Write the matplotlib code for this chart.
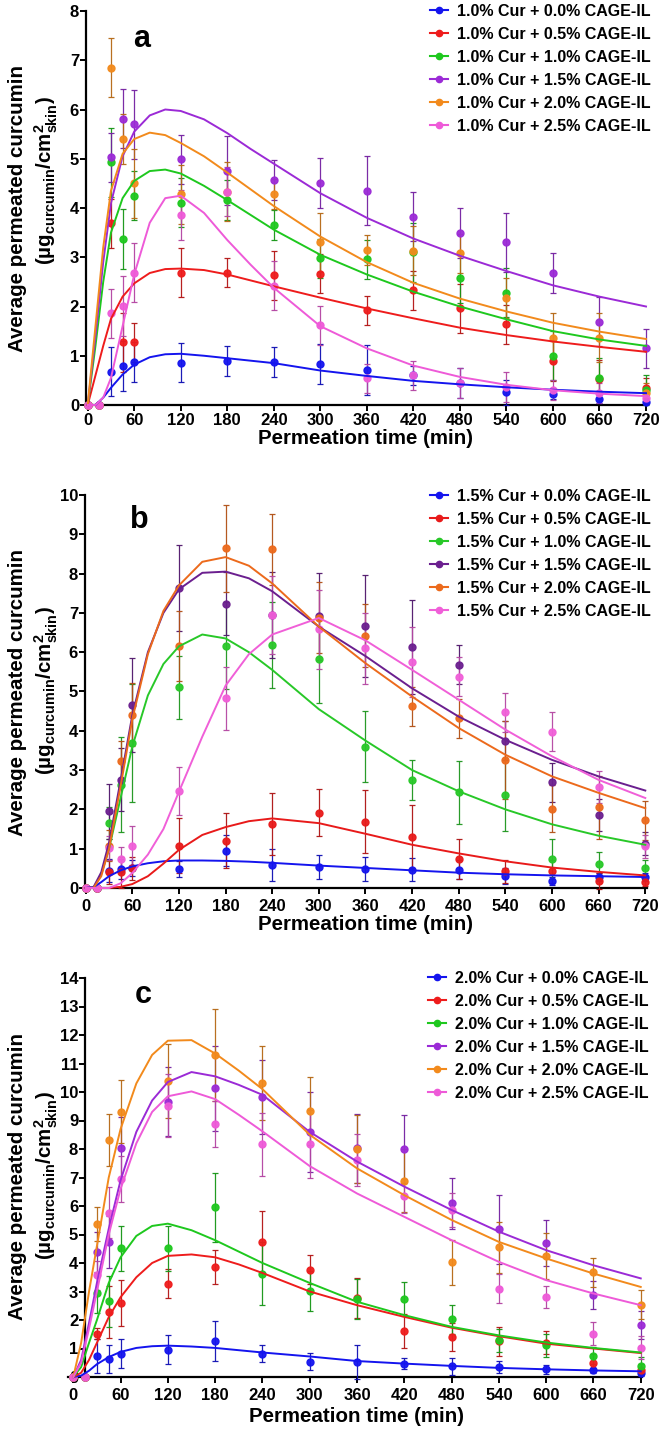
import numpy as np
import matplotlib
matplotlib.use("Agg")
import matplotlib.pyplot as plt
from matplotlib.lines import Line2D
from matplotlib.colors import to_rgb

plt.rcParams['font.family'] = ['Liberation Sans', 'DejaVu Sans']
plt.rcParams['font.weight'] = 'bold'
plt.rcParams['mathtext.fontset'] = 'custom'
plt.rcParams['mathtext.rm'] = 'Liberation Sans:bold'
plt.rcParams['mathtext.it'] = 'Liberation Sans:bold'
plt.rcParams['mathtext.bf'] = 'Liberation Sans:bold'

# -------------------------------
# DATA
# -------------------------------
times = [0, 15, 30, 45, 60, 120, 180, 240, 300, 360, 420, 480, 540, 600, 660, 720]
fit_times = [0, 10, 20, 30, 45, 60, 80, 100, 120, 150, 180, 210, 240, 300, 360, 420, 480, 540, 600, 660, 720]
cage = ["0.0", "0.5", "1.0", "1.5", "2.0", "2.5"]
xticks = [0, 60, 120, 180, 240, 300, 360, 420, 480, 540, 600, 660, 720]

# panel a : 1.0% Cur
a_mean = [
    [0, 0, 0.68, 0.79, 0.87, 0.86, 0.89, 0.87, 0.83, 0.71, 0.60, 0.45, 0.26, 0.22, 0.12, 0.07],
    [0, 0, 3.69, 1.27, 1.27, 2.69, 2.69, 2.63, 2.67, 1.92, 2.33, 1.96, 1.64, 0.89, 0.52, 0.34],
    [0, 0, 4.93, 3.37, 4.25, 4.11, 4.16, 3.65, 2.98, 2.96, 3.10, 2.57, 2.28, 1.00, 0.55, 0.30],
    [0, 0, 5.03, 5.81, 5.70, 4.99, 4.76, 4.57, 4.51, 4.35, 3.82, 3.49, 3.30, 2.68, 1.69, 1.15],
    [0, 0, 6.85, 5.40, 4.50, 4.28, 4.33, 4.28, 3.30, 3.15, 3.13, 3.08, 2.17, 1.37, 1.37, 0.25],
    [0, 0, 1.86, 2.01, 2.69, 3.86, 4.33, 2.42, 1.62, 0.54, 0.60, 0.45, 0.37, 0.30, 0.25, 0.15],
]
a_sd = [
    [0, 0, 0.5, 0.5, 0.4, 0.4, 0.3, 0.3, 0.4, 0.5, 0.2, 0.3, 0.25, 0.1, 0.08, 0.05],
    [0, 0, 0.5, 0.6, 0.4, 0.5, 0.3, 0.5, 0.4, 0.3, 0.4, 0.5, 0.4, 0.4, 0.4, 0.2],
    [0, 0, 0.7, 0.6, 0.5, 0.5, 0.4, 0.3, 0.4, 0.4, 0.6, 0.5, 0.5, 0.5, 0.4, 0.3],
    [0, 0, 0.5, 0.6, 0.7, 0.5, 0.7, 0.4, 0.5, 0.7, 0.5, 0.5, 0.6, 0.4, 0.5, 0.4],
    [0, 0, 0.6, 0.5, 0.7, 0.6, 0.6, 0.3, 0.6, 0.3, 0.5, 0.4, 0.4, 0.5, 0.5, 0.2],
    [0, 0, 0.5, 0.6, 0.6, 0.5, 0.5, 0.5, 0.4, 0.3, 0.3, 0.3, 0.3, 0.2, 0.2, 0.1],
]
a_fit = [
    [0, 0.0, 0.15, 0.35, 0.62, 0.82, 0.97, 1.03, 1.04, 1.00, 0.95, 0.90, 0.85, 0.70, 0.59, 0.49, 0.42, 0.36, 0.31, 0.27, 0.24],
    [0, 0.6, 1.2, 1.75, 2.2, 2.47, 2.68, 2.76, 2.77, 2.74, 2.65, 2.53, 2.41, 2.18, 1.96, 1.76, 1.57, 1.42, 1.29, 1.18, 1.08],
    [0, 1.2, 2.5, 3.5, 4.2, 4.55, 4.75, 4.78, 4.70, 4.45, 4.16, 3.86, 3.56, 3.05, 2.65, 2.30, 2.00, 1.74, 1.50, 1.33, 1.20],
    [0, 1.4, 2.9, 4.1, 5.05, 5.55, 5.88, 6.00, 5.97, 5.80, 5.52, 5.20, 4.90, 4.30, 3.80, 3.38, 3.03, 2.72, 2.43, 2.20, 2.00],
    [0, 1.6, 3.2, 4.35, 5.1, 5.40, 5.53, 5.48, 5.32, 5.05, 4.72, 4.38, 4.04, 3.42, 2.90, 2.48, 2.16, 1.90, 1.67, 1.49, 1.34],
    [0, 0.0, 0.15, 0.55, 1.6, 2.65, 3.70, 4.20, 4.25, 3.90, 3.35, 2.85, 2.38, 1.60, 1.15, 0.80, 0.57, 0.41, 0.30, 0.23, 0.18],
]

# panel b : 1.5% Cur
b_mean = [
    [0, 0, 0.44, 0.49, 0.51, 0.48, 0.95, 0.58, 0.53, 0.49, 0.47, 0.47, 0.31, 0.17, 0.28, 0.28],
    [0, 0, 0.40, 0.40, 0.50, 1.08, 1.20, 1.63, 1.92, 1.69, 1.31, 0.74, 0.42, 0.42, 0.17, 0.14],
    [0, 0, 1.65, 2.63, 3.69, 5.11, 6.17, 6.19, 5.82, 3.60, 2.75, 2.44, 2.36, 0.74, 0.62, 0.51],
    [0, 0, 1.95, 2.75, 4.65, 7.64, 7.23, 6.95, 6.91, 6.67, 6.14, 5.68, 3.75, 2.69, 1.86, 1.13],
    [0, 0, 1.08, 3.24, 4.41, 6.16, 8.64, 8.62, 6.88, 6.42, 4.62, 4.32, 3.26, 2.02, 2.05, 1.72],
    [0, 0, 1.02, 0.74, 1.08, 2.47, 4.83, 6.95, 6.58, 6.10, 5.75, 5.38, 4.47, 3.98, 2.57, 1.06],
]
b_sd = [
    [0, 0, 0.3, 0.25, 0.2, 0.2, 0.4, 0.4, 0.3, 0.3, 0.3, 0.25, 0.2, 0.1, 0.1, 0.1],
    [0, 0, 0.3, 0.4, 0.3, 0.7, 0.7, 0.8, 0.6, 0.8, 0.8, 0.5, 0.3, 0.3, 0.2, 0.1],
    [0, 0, 0.4, 1.2, 1.5, 0.8, 1.1, 1.1, 1.1, 0.9, 0.5, 0.8, 0.9, 0.5, 0.3, 0.2],
    [0, 0, 0.7, 0.8, 1.2, 1.1, 0.8, 1.1, 1.1, 1.3, 1.2, 0.5, 0.5, 0.5, 0.4, 0.3],
    [0, 0, 0.4, 0.5, 0.8, 0.9, 1.1, 0.9, 0.9, 0.8, 0.5, 0.5, 1.0, 0.6, 0.8, 0.5],
    [0, 0, 0.3, 0.3, 0.5, 0.6, 0.8, 1.0, 1.0, 0.9, 0.9, 0.5, 0.5, 0.5, 0.4, 0.3],
]
b_fit = [
    [0, 0.02, 0.15, 0.30, 0.45, 0.55, 0.63, 0.68, 0.70, 0.70, 0.69, 0.67, 0.64, 0.57, 0.51, 0.45, 0.39, 0.35, 0.32, 0.30, 0.28],
    [0, 0.0, 0.0, 0.0, 0.03, 0.10, 0.30, 0.62, 0.97, 1.35, 1.55, 1.70, 1.77, 1.65, 1.38, 1.10, 0.88, 0.68, 0.52, 0.41, 0.32],
    [0, 0.0, 0.35, 1.0, 2.3, 3.6, 4.9, 5.7, 6.15, 6.45, 6.35, 6.00, 5.55, 4.55, 3.75, 3.00, 2.46, 2.00, 1.62, 1.33, 1.10],
    [0, 0.02, 0.4, 1.15, 2.75, 4.4, 6.0, 7.0, 7.6, 8.02, 8.05, 7.88, 7.55, 6.65, 5.90, 5.08, 4.36, 3.77, 3.26, 2.84, 2.48],
    [0, 0.0, 0.3, 1.0, 2.6, 4.3, 5.95, 7.05, 7.7, 8.30, 8.42, 8.20, 7.75, 6.65, 5.72, 4.87, 4.07, 3.39, 2.84, 2.42, 2.03],
    [0, 0.0, 0.0, 0.0, 0.12, 0.38, 0.85, 1.5, 2.45, 3.85, 5.15, 5.95, 6.45, 6.87, 6.30, 5.55, 4.79, 4.03, 3.35, 2.75, 2.29],
]

# panel c : 2.0% Cur
c_mean = [
    [0, 0, 0.73, 0.64, 0.82, 0.96, 1.27, 0.82, 0.53, 0.53, 0.47, 0.37, 0.35, 0.27, 0.23, 0.15],
    [0, 0, 1.52, 2.28, 2.60, 3.28, 3.87, 4.74, 3.77, 2.78, 1.62, 1.41, 1.25, 1.21, 0.49, 0.26],
    [0, 0, 2.95, 2.66, 4.51, 4.51, 5.95, 3.63, 3.02, 2.75, 2.73, 2.02, 1.29, 1.11, 0.75, 0.40],
    [0, 0, 4.39, 4.74, 8.02, 9.66, 10.13, 9.84, 8.61, 8.02, 7.99, 6.09, 5.18, 4.71, 2.87, 1.82],
    [0, 0, 5.37, 8.32, 9.31, 10.39, 11.30, 10.31, 9.34, 8.00, 6.89, 4.02, 4.55, 4.24, 3.67, 2.54],
    [0, 0, 3.57, 5.76, 6.94, 9.52, 8.88, 8.17, 8.18, 7.61, 6.35, 5.86, 3.10, 2.81, 1.52, 1.03],
]
c_sd = [
    [0, 0, 0.6, 0.5, 0.5, 0.5, 0.7, 0.3, 0.3, 0.6, 0.2, 0.3, 0.2, 0.15, 0.1, 0.1],
    [0, 0, 0.2, 0.9, 0.8, 0.5, 0.6, 1.1, 0.5, 0.7, 0.6, 0.5, 0.5, 0.4, 0.3, 0.2],
    [0, 0, 0.7, 0.9, 0.8, 0.8, 1.2, 1.1, 0.7, 0.7, 0.6, 0.5, 0.4, 0.4, 0.3, 0.3],
    [0, 0, 0.7, 0.9, 1.1, 1.2, 1.5, 1.3, 1.4, 1.2, 1.2, 0.9, 1.2, 0.8, 0.5, 0.5],
    [0, 0, 0.6, 0.9, 1.1, 1.3, 1.6, 1.3, 1.2, 1.2, 1.1, 0.8, 0.9, 0.8, 0.5, 0.5],
    [0, 0, 0.5, 0.9, 0.8, 1.1, 0.8, 1.1, 1.2, 0.9, 0.6, 0.6, 0.5, 0.4, 0.4, 0.4],
]
c_fit = [
    [0, 0.05, 0.22, 0.45, 0.70, 0.88, 1.02, 1.08, 1.10, 1.07, 1.02, 0.94, 0.86, 0.72, 0.56, 0.47, 0.39, 0.32, 0.27, 0.23, 0.20],
    [0, 0.15, 0.6, 1.2, 2.1, 2.8, 3.5, 4.0, 4.25, 4.30, 4.20, 3.95, 3.65, 3.00, 2.52, 2.11, 1.73, 1.43, 1.17, 1.00, 0.84],
    [0, 0.35, 1.2, 2.0, 3.3, 4.2, 4.95, 5.3, 5.38, 5.15, 4.80, 4.40, 4.00, 3.30, 2.64, 2.17, 1.76, 1.46, 1.21, 1.02, 0.86],
    [0, 0.6, 1.9, 3.3, 5.2, 6.9, 8.6, 9.7, 10.35, 10.70, 10.55, 10.25, 9.90, 8.60, 7.56, 6.68, 5.86, 5.10, 4.45, 3.92, 3.46],
    [0, 1.2, 3.0, 4.6, 7.0, 8.7, 10.3, 11.3, 11.8, 11.82, 11.35, 10.75, 10.10, 8.50, 7.32, 6.38, 5.51, 4.74, 4.16, 3.63, 3.16],
    [0, 0.5, 1.7, 3.0, 5.0, 6.6, 8.2, 9.3, 9.85, 10.02, 9.75, 9.20, 8.62, 7.40, 6.44, 5.62, 4.80, 4.04, 3.40, 2.93, 2.52],
]

colors_ac = ['#1414ee', '#ee1c1c', '#1ec81e', '#9b2ad6', '#f28a1c', '#ee5ad8']
colors_b = ['#1414ee', '#e81a1a', '#28c828', '#6b1f8f', '#ec6a1c', '#f05fd8']

W, H = 661, 1434
fig = plt.figure(figsize=(W / 100, H / 100), dpi=100)


def px_rect(left, right, top, bottom):
    return [left / W, 1 - bottom / H, (right - left) / W, (bottom - top) / H]


def draw_panel(rect, xlim, ymax, means, sds, fits, colors, cur, letter, spine_x,
               letter_xy, leg_anchor, ylab_y, ylab2_y, xlab_y, xlab_x, xpad):
    ax = fig.add_axes(px_rect(*rect))
    for m, s, c in zip(means, sds, colors):
        ecol = tuple(np.array(to_rgb(c)) * 0.75)
        ax.errorbar(times, m, yerr=s, fmt='o', color=c, ecolor=ecol, elinewidth=0.9,
                    capsize=2.5, capthick=0.9, markersize=5, alpha=0.95, clip_on=False, zorder=3)
    for f, c in zip(fits, colors):
        ax.plot(fit_times, f, color=c, lw=1.4, zorder=4, clip_on=False)
    ax.set_xlim(*xlim)
    ax.set_ylim(0, ymax)
    ax.set_xticks(xticks)
    ax.set_yticks(range(0, ymax + 1))
    for sp in ['top', 'right']:
        ax.spines[sp].set_visible(False)
    for sp in ['left', 'bottom']:
        ax.spines[sp].set_linewidth(1.6)
    ax.spines['left'].set_position(('data', spine_x))
    ax.tick_params(axis='both', length=4, width=1.4, pad=1, labelsize=12)
    ax.tick_params(axis='x', pad=xpad)
    for lab in ax.get_xticklabels() + ax.get_yticklabels():
        lab.set_fontweight('bold')

    handles = [Line2D([], [], color=c, marker='o', markersize=4.5, lw=1.5) for c in colors]
    labels = [cur + "% Cur + " + g + "% CAGE-IL" for g in cage]
    ax.legend(handles, labels, loc='upper right', bbox_to_anchor=(leg_anchor[0] / W, 1 - leg_anchor[1] / H),
              bbox_transform=fig.transFigure, frameon=False, borderpad=0, borderaxespad=0,
              handlelength=1.1, handletextpad=0.6, labelspacing=0.5,
              prop={'size': 11.5, 'weight': 'bold'})

    fig.text(letter_xy[0] / W, 1 - letter_xy[1] / H, letter, fontsize=22, fontweight='bold',
             ha='left', va='baseline')
    fig.text(18 / W, 1 - ylab_y / H, "Average permeated curcumin", rotation=90,
             fontsize=14.8, fontweight='bold', ha='center', va='center')
    fig.text(46 / W, 1 - ylab2_y / H,
             "(µg$_{\\mathregular{curcumin}}$/cm$^{\\mathregular{2}}_{\\mathregular{skin}}$)",
             rotation=90, fontsize=14.8, fontweight='bold', ha='center', va='center')
    fig.text(xlab_x / W, 1 - xlab_y / H, "Permeation time (min)", fontsize=14.8,
             fontweight='bold', ha='center', va='center')
    return ax


draw_panel((86, 647, 11, 405), (-2.2, 721.3), 8, a_mean, a_sd, a_fit, colors_ac, "1.0", "a", -2.2,
           (133, 47), (651, 4), 208, 180, 438, 366, 1.5)
draw_panel((85, 647, 495, 888), (-0.9, 722.2), 10, b_mean, b_sd, b_fit, colors_b, "1.5", "b", -0.9,
           (130, 528), (651, 489), 692, 690, 924, 366, 4)
draw_panel((68, 642, 978, 1377), (-6.7, 721.6), 14, c_mean, c_sd, c_fit, colors_ac, "2.0", "c", 15,
           (135, 1003), (649, 971), 1176, 1175, 1416, 357, 4)

fig.savefig("out.png", dpi=100)
